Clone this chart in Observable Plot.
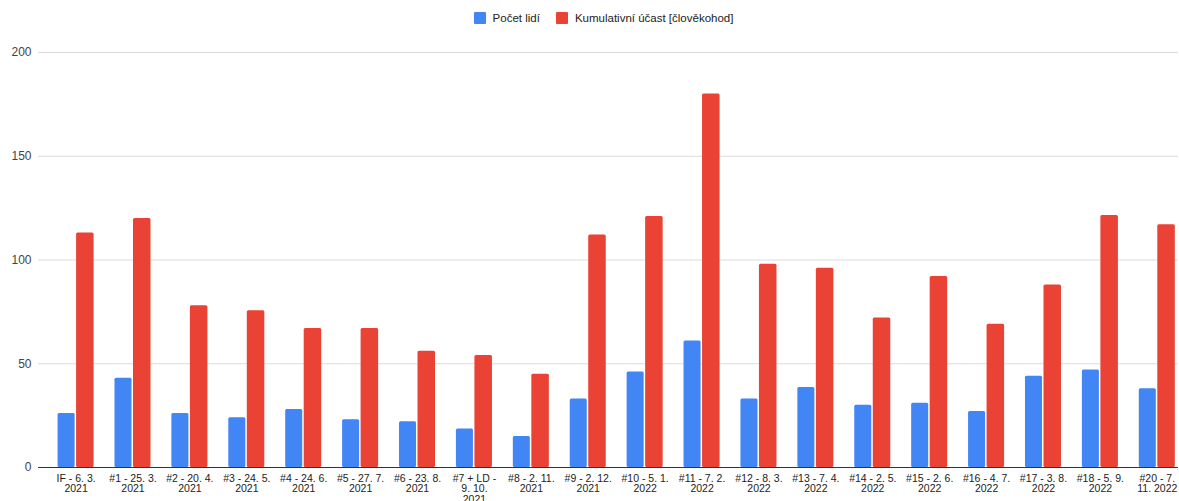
<!DOCTYPE html>
<html>
<head>
<meta charset="utf-8">
<script src="https://cdn.jsdelivr.net/npm/d3@7"></script>
<script src="https://cdn.jsdelivr.net/npm/@observablehq/plot@0.6"></script>
<style>
  html, body { margin: 0; padding: 0; background: #fff; }
  body { width: 1179px; height: 501px; overflow: hidden; font-family: Arial, "Liberation Sans", sans-serif; }
  #legend { height: 36px; display: flex; justify-content: center; align-items: center; padding-left: 28px; box-sizing: border-box; font-size: 11.5px; color: #222; }
  .item { display: flex; align-items: center; margin: 0 8px; }
  .sw { width: 12px; height: 12px; margin-right: 7px; border-radius: 1px; }
</style>
</head>
<body>
<div id="legend"></div>
<div id="chart"></div>
<script>
const categories = [
  "IF - 6. 3. 2021", "#1 - 25. 3. 2021", "#2 - 20. 4. 2021", "#3 - 24. 5. 2021",
  "#4 - 24. 6. 2021", "#5 - 27. 7. 2021", "#6 - 23. 8. 2021", "#7 + LD - 9. 10. 2021",
  "#8 - 2. 11. 2021", "#9 - 2. 12. 2021", "#10 - 5. 1. 2022", "#11 - 7. 2. 2022",
  "#12 - 8. 3. 2022", "#13 - 7. 4. 2022", "#14 - 2. 5. 2022", "#15 - 2. 6. 2022",
  "#16 - 4. 7. 2022", "#17 - 3. 8. 2022", "#18 - 5. 9. 2022", "#20 - 7. 11. 2022"
];
const tickLabels = [
  "IF - 6. 3.\n2021", "#1 - 25. 3.\n2021", "#2 - 20. 4.\n2021", "#3 - 24. 5.\n2021",
  "#4 - 24. 6.\n2021", "#5 - 27. 7.\n2021", "#6 - 23. 8.\n2021", "#7 + LD -\n9. 10.\n2021",
  "#8 - 2. 11.\n2021", "#9 - 2. 12.\n2021", "#10 - 5. 1.\n2022", "#11 - 7. 2.\n2022",
  "#12 - 8. 3.\n2022", "#13 - 7. 4.\n2022", "#14 - 2. 5.\n2022", "#15 - 2. 6.\n2022",
  "#16 - 4. 7.\n2022", "#17 - 3. 8.\n2022", "#18 - 5. 9.\n2022", "#20 - 7.\n11. 2022"
];
const pocetLidi = [26, 43, 26, 24, 28, 23, 22, 18.5, 15, 33, 46, 61, 33, 38.5, 30, 31, 27, 44, 47, 38];
const kumulativniUcast = [113, 120, 78, 75.5, 67, 67, 56, 54, 45, 112, 121, 180, 98, 96, 72, 92, 69, 88, 121.5, 117];
const yTicks = [0, 50, 100, 150, 200];
const seriesNames = ["Počet lidí", "Kumulativní účast [člověkohod]"];
const seriesColors = ["#4285F4", "#EA4335"];

// legend
const legend = document.getElementById("legend");
seriesNames.forEach((n, i) => {
  const it = document.createElement("div");
  it.className = "item";
  const sw = document.createElement("div");
  sw.className = "sw";
  sw.style.background = seriesColors[i];
  const t = document.createElement("span");
  t.textContent = n;
  it.appendChild(sw); it.appendChild(t);
  legend.appendChild(it);
});

const data = categories.map((c, i) => ({cat: c, pocet: pocetLidi[i], kum: kumulativniUcast[i]}));

const chart = Plot.plot({
  width: 1179,
  height: 465,
  marginLeft: 38,
  marginRight: 1,
  marginTop: 16,
  marginBottom: 34,
  style: {fontFamily: "Arial, 'Liberation Sans', sans-serif", fontSize: "10.5px", color: "#222", background: "#fff"},
  x: {domain: categories, paddingInner: 0.367, paddingOuter: 0.2, align: 0.86, round: false, label: null, axis: null},
  y: {domain: [0, 200], label: null, axis: null},
  marks: [
    Plot.ruleY(yTicks.filter(t => t > 0), {stroke: "#dcdcdc", strokeWidth: 1}),
    Plot.barY(data, {x: "cat", y: "pocet", fill: seriesColors[0], insetRight: 19, rx: 1.5}),
    Plot.barY(data, {x: "cat", y: "kum", fill: seriesColors[1], insetLeft: 18.5, rx: 1.5}),
    Plot.ruleY([0], {stroke: "#333", strokeWidth: 1}),
    Plot.axisY({ticks: yTicks, tickSize: 0, tickPadding: 7, fontSize: 12, fill: "#444", label: null}),
    Plot.axisX({tickSize: 0, tickPadding: 7, lineHeight: 1, fill: "#222", label: null,
      tickFormat: d => tickLabels[categories.indexOf(d)]})
  ]
});
document.getElementById("chart").appendChild(chart);
</script>
</body>
</html>
